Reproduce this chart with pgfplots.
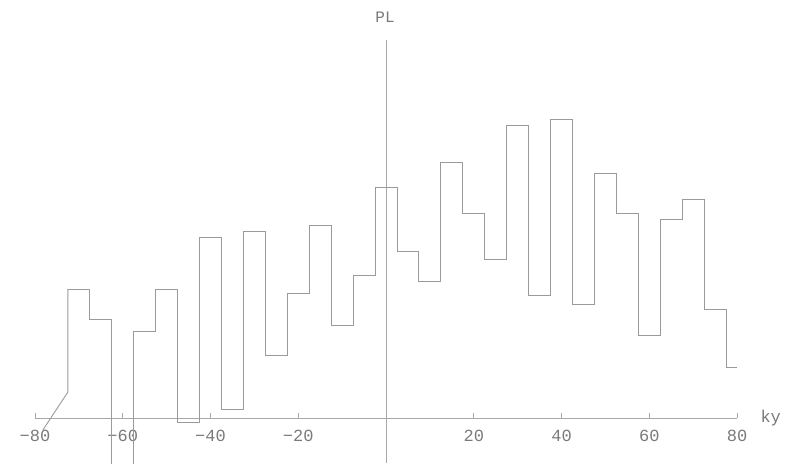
\documentclass[border=0pt]{standalone}
\usepackage{fontspec}
\setmainfont{Liberation Mono}
\usepackage{pgfplots}
\pgfplotsset{compat=1.18}
\definecolor{ln}{HTML}{9A9A9A}
\definecolor{ax}{HTML}{A8A8A8}
\definecolor{tx}{HTML}{7A7A7A}
\begin{document}
\begin{tikzpicture}
\begin{axis}[
  scale only axis,
  width=702pt, height=423pt,
  xmin=-80, xmax=80,
  ymin=-45, ymax=378,
  axis lines=middle,
  axis line style={-, color=ax, line width=0.8pt},
  clip=true,
  xtick={-80,-60,-40,-20,20,40,60,80},
  xticklabels={−80,−60,−40,−20,20,40,60,80},
  minor x tick num=3,
  ytick=\empty,
  xtick align=inside,
  major tick length=5pt,
  minor tick length=3pt,
  tick style={color=ax, line width=0.6pt},
  xticklabel style={font=\fontsize{17}{19}\selectfont, text=tx, yshift=-9pt},
]
\addplot[color=ln, line width=0.9pt] coordinates {(-78.2,-12) (-72.5,26) (-72.5,129)};
\addplot[color=ln, line width=0.9pt, const plot mark left] coordinates {
(-72.5,129) (-67.5,99) (-62.5,-100) (-57.5,87) (-52.5,129) (-47.5,-4)
(-42.5,181) (-37.5,9) (-32.5,187) (-27.5,63) (-22.5,125) (-17.5,193)
(-12.5,93) (-7.5,143) (-2.5,231) (2.5,167) (7.5,137) (12.5,256)
(17.5,205) (22.5,159) (27.5,293) (32.5,123) (37.5,299) (42.5,114)
(47.5,245) (52.5,205) (57.5,83) (62.5,199) (67.5,219) (72.5,109)
(77.5,51) (80,51)};
\end{axis}
\node[text=tx, font=\fontsize{16}{18}\selectfont] at (350pt,446pt) {PL};
\node[text=tx, font=\fontsize{17}{19}\selectfont, anchor=west] at (722pt,45pt) {ky};
\pgfresetboundingbox
\path[use as bounding box] (-35pt,0pt) rectangle (756pt,463pt);
\end{tikzpicture}
\end{document}
